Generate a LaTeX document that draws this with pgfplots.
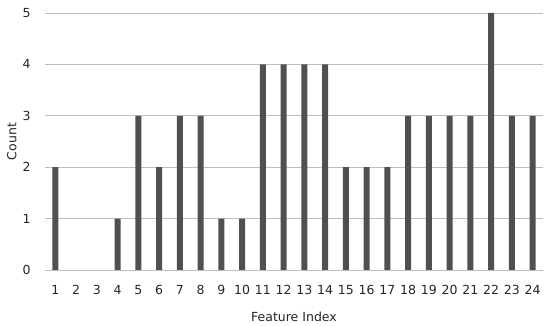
\documentclass[border=0pt]{standalone}
\usepackage{fontspec}
\setmainfont{DejaVu Sans}
\usepackage{pgfplots}
\pgfplotsset{compat=1.18}
\definecolor{barc}{HTML}{505050}
\definecolor{gridc}{HTML}{BEBEBE}
\begin{document}
\begin{tikzpicture}[font=\fontsize{12.5}{14}\selectfont]
\begin{axis}[
  scale only axis,
  width=498pt, height=257pt,
  ybar, bar width=6pt,
  xmin=0.5, xmax=24.5, ymin=0, ymax=5,
  xtick={1,...,24}, ytick={0,...,5},
  axis line style={draw=none},
  major tick length=0pt,
  ymajorgrids, grid style={gridc, line width=0.8pt},
  /pgf/number format/assume math mode=true,
  ticklabel style={text=black!85},
  xticklabel style={yshift=-12pt},
  yticklabel style={xshift=-11pt},
  xlabel={Feature Index}, ylabel={Count},
  label style={text=black!85},
  xlabel style={yshift=-10pt},
  ylabel style={yshift=-1pt},
  y filter/.expression={y==0 ? nan : y},
  unbounded coords=discard,
]
\addplot[fill=barc, draw=none] coordinates {
(1,2) (2,0) (3,0) (4,1) (5,3) (6,2) (7,3) (8,3) (9,1) (10,1) (11,4) (12,4)
(13,4) (14,4) (15,2) (16,2) (17,2) (18,3) (19,3) (20,3) (21,3) (22,5) (23,3) (24,3)};
\end{axis}
\pgfresetboundingbox
\path ([shift={(-45pt,-56pt)}]current axis.south west) rectangle ++(550pt,326pt);
\end{tikzpicture}
\end{document}
